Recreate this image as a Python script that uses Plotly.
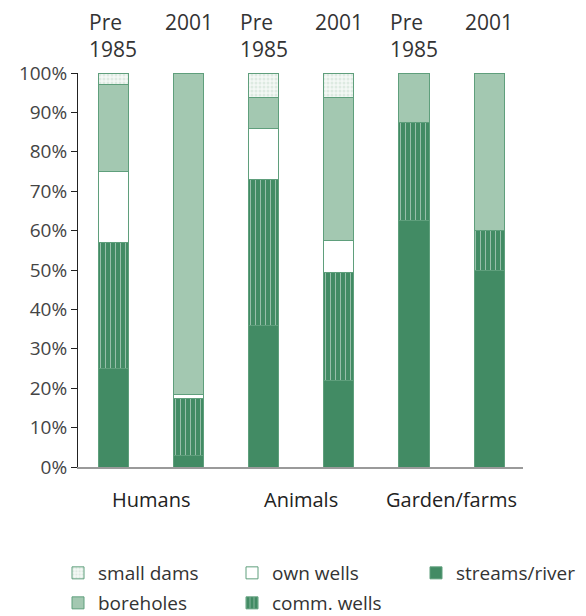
import plotly.graph_objects as go

# ---- data ----
bar_ids = ["Humans|Pre 1985", "Humans|2001", "Animals|Pre 1985", "Animals|2001",
           "Garden/farms|Pre 1985", "Garden/farms|2001"]
period_labels = ["Pre<br>1985", "2001", "Pre<br>1985", "2001", "Pre<br>1985", "2001"]
group_labels = ["Humans", "Animals", "Garden/farms"]

streams_river = [25, 3, 36, 22, 62.5, 50]
comm_wells = [32, 14.5, 37, 27.3, 25, 10]
own_wells = [18, 1, 13, 8.2, 0, 0]
boreholes = [22, 81.5, 7.7, 36.3, 12.5, 40]
small_dams = [3, 0, 6.3, 6.2, 0, 0]

tick_vals = [0, 10, 20, 30, 40, 50, 60, 70, 80, 90, 100]
tick_text = ["0%", "10%", "20%", "30%", "40%", "50%", "60%", "70%", "80%", "90%", "100%"]

# ---- style ----
FONT = "Open Sans"
DARK = "#428b64"
LIGHT = "#a3c8b1"
OUTLINE = "#5f9f7c"
TXT = "#333333"
OFF = 8            # page body margin offset
W, H = 586 - OFF, 616 - OFF

fig = go.Figure()

series = [
    ("streams/river", streams_river, dict(color=DARK), "legend5"),
    ("comm. wells", comm_wells,
     dict(color=DARK, pattern=dict(shape="|", fgcolor="#ffffff", bgcolor=DARK, size=5, solidity=0.18)), "legend4"),
    ("own wells", own_wells, dict(color="#ffffff"), "legend2"),
    ("boreholes", boreholes, dict(color=LIGHT), "legend3"),
    ("small dams", small_dams,
     dict(color="#ffffff", pattern=dict(shape=".", fgcolor="#c6dccd", bgcolor="#f4f8f5", size=4, solidity=0.45)), "legend"),
]
for name, vals, marker, lg in series:
    m = dict(marker)
    m["line"] = dict(color=OUTLINE, width=1)
    fig.add_trace(go.Bar(x=bar_ids, y=vals, name=name, marker=m, width=0.4, legend=lg))

# legends positioned individually (page pixel coords)
leg_pos = {
    "legend": (58, 573),   # small dams
    "legend2": (232, 573), # own wells
    "legend3": (58, 603),  # boreholes
    "legend4": (232, 603), # comm. wells
    "legend5": (416, 573), # streams/river
}
for key, (px, py) in leg_pos.items():
    fig.update_layout({key: dict(
        x=(px - OFF) / W, y=1 - (py - OFF) / H, xref="container", yref="container",
        xanchor="left", yanchor="middle", orientation="h",
        font=dict(family=FONT, size=19, color=TXT), bgcolor="rgba(0,0,0,0)",
    )})

annotations = []
for i, lab in enumerate(period_labels):
    annotations.append(dict(x=i, y=1.17, xref="x", yref="paper", text=lab, showarrow=False,
                            xanchor="center", yanchor="top", align="left",
                            font=dict(family=FONT, size=21, color=TXT)))
for j, lab in enumerate(group_labels):
    annotations.append(dict(x=2 * j + 0.5, y=-0.083, xref="x", yref="paper", text=lab,
                            showarrow=False, xanchor="center", yanchor="middle",
                            font=dict(family=FONT, size=20, color="#222222")))

fig.update_layout(
    width=W, height=H,
    margin=dict(l=78 - OFF, r=586 - 523, t=73 - OFF, b=616 - 467, autoexpand=False),
    paper_bgcolor="white", plot_bgcolor="white",
    barmode="stack",
    showlegend=True,
    annotations=annotations,
    xaxis=dict(type="category", range=[-0.47, 5.45], showticklabels=False, ticks="",
               showline=True, linecolor="#9a9a9a", linewidth=1.5, showgrid=False, zeroline=False),
    yaxis=dict(range=[0, 100], tickmode="array", tickvals=tick_vals, ticktext=tick_text,
               ticks="outside", ticklen=6,
               tickcolor="#222222", showline=True, linecolor="#222222", linewidth=1,
               showgrid=False, zeroline=False,
               tickfont=dict(family=FONT, size=19, color="#444444")),
)

fig.write_html("out.html")
